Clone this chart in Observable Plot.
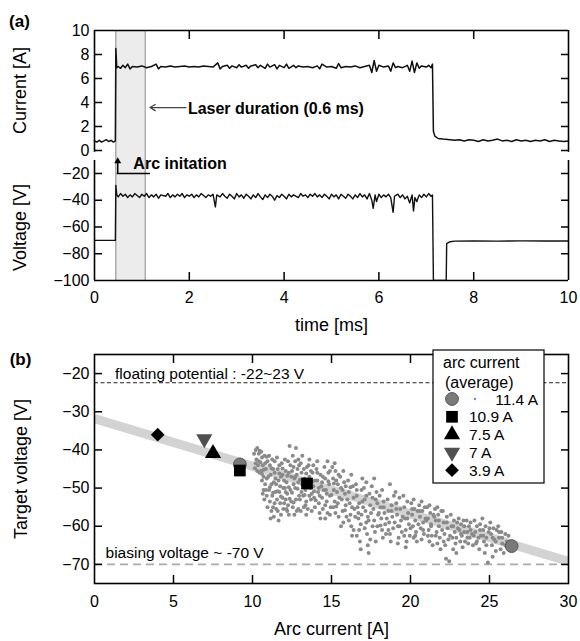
<!DOCTYPE html>
<html><head><meta charset="utf-8">
<script src="https://cdn.jsdelivr.net/npm/d3@7"></script>
<script src="https://cdn.jsdelivr.net/npm/@observablehq/plot@0.6"></script>
<style>
body{margin:0;background:#fff;}
#chart{position:relative;width:580px;height:641px;background:#fff;overflow:hidden;}
#chart svg{position:absolute;left:0;}
</style></head><body><div id="chart"></div>
<script>
// ---------------- DATA ----------------
// (a) time traces [time ms, value]
const currentTrace = [[0,0.8],[0.05,0.7],[0.1,0.85],[0.15,0.7],[0.2,0.8],[0.25,0.9],[0.3,0.75],[0.35,0.85],[0.4,0.7],[0.44,0.8],
[0.45,8.5],[0.47,6.9],[0.5,7.0],[0.55,6.85],[0.6,7.1],[0.65,6.9],[0.7,7.2],[0.75,6.8],[0.8,7.0],[0.9,6.95],[1.0,7.05],[1.1,6.9],[1.2,7.0],[1.3,7.2],[1.35,6.8],[1.4,7.0],[1.5,6.95],[1.6,7.05],[1.7,6.95],[1.8,7.0],[1.9,7.05],[2.0,6.95],[2.1,7.0],[2.2,6.95],[2.3,7.05],[2.4,7.0],[2.5,6.95],[2.6,7.3],[2.65,6.8],[2.7,7.0],[2.8,7.1],[2.85,6.85],[2.9,7.05],[3.0,6.9],[3.05,7.15],[3.1,6.95],[3.2,7.1],[3.25,6.85],[3.3,7.05],[3.4,7.15],[3.45,6.9],[3.5,7.1],[3.6,6.85],[3.65,7.2],[3.7,6.95],[3.8,7.15],[3.85,6.8],[3.9,7.1],[4.0,6.9],[4.05,7.2],[4.1,6.85],[4.2,7.1],[4.25,6.9],[4.3,7.05],[4.4,6.95],[4.5,7.0],[4.6,6.9],[4.7,7.05],[4.75,6.8],[4.8,7.2],[4.9,6.95],[5.0,7.0],[5.1,6.85],[5.15,7.25],[5.2,6.9],[5.3,7.0],[5.4,6.95],[5.5,7.05],[5.6,6.9],[5.7,7.0],[5.8,7.1],[5.85,6.5],[5.9,7.5],[5.95,6.6],[6.0,7.1],[6.1,6.95],[6.2,7.05],[6.25,6.6],[6.3,7.3],[6.35,6.9],[6.4,7.0],[6.5,6.9],[6.6,7.1],[6.65,6.6],[6.7,7.45],[6.75,6.5],[6.8,7.3],[6.85,6.85],[6.9,7.05],[7.0,6.95],[7.05,7.1],[7.1,6.9],[7.13,7.2],
[7.15,1.6],[7.18,1.2],[7.25,1.0],[7.35,0.95],[7.5,0.9],[7.6,0.85],[7.7,0.9],[7.8,0.8],[7.9,0.9],[8.0,0.85],[8.1,0.75],[8.2,0.9],[8.3,0.8],[8.4,0.85],[8.5,0.95],[8.6,0.8],[8.7,0.85],[8.8,0.75],[8.9,0.9],[9.0,0.8],[9.1,0.85],[9.2,0.75],[9.3,0.85],[9.4,0.8],[9.5,0.9],[9.6,0.75],[9.7,0.85],[9.8,0.8],[9.9,0.75],[10.0,0.8]];

const voltageTrace = [[0,-70],[0.44,-70],[0.45,-29],[0.47,-36],[0.5,-37.5],[0.55,-35],[0.6,-37],[0.65,-35.5],[0.7,-38],[0.75,-36],[0.8,-37.5],[0.85,-35],[0.9,-36.5],[0.95,-38],[1.0,-35.5],[1.05,-37],[1.1,-35],[1.15,-38],[1.2,-36],[1.25,-37.5],[1.3,-35.5],[1.35,-38.5],[1.4,-36],[1.5,-37],[1.55,-35],[1.6,-38],[1.65,-36],[1.7,-37.5],[1.75,-35.5],[1.8,-37],[1.85,-35],[1.9,-38],[1.95,-36],[2.0,-37],[2.05,-35.5],[2.1,-38],[2.15,-36],[2.2,-37.5],[2.25,-35],[2.3,-36.5],[2.35,-38],[2.4,-36],[2.45,-37],[2.5,-35.5],[2.55,-45],[2.58,-36],[2.65,-37.5],[2.7,-35],[2.75,-37],[2.8,-38.5],[2.85,-35.5],[2.9,-37],[2.95,-39],[3.0,-35],[3.05,-37.5],[3.1,-36],[3.15,-38.5],[3.2,-35.5],[3.25,-37],[3.3,-39],[3.35,-36],[3.4,-38],[3.45,-35],[3.5,-37.5],[3.55,-39.5],[3.6,-36],[3.65,-38],[3.7,-35.5],[3.75,-37],[3.8,-40],[3.85,-36.5],[3.9,-38],[3.95,-35.5],[4.0,-37],[4.05,-39],[4.1,-35.5],[4.15,-37.5],[4.2,-36],[4.3,-38],[4.35,-35],[4.4,-37],[4.45,-36],[4.5,-38],[4.55,-35.5],[4.6,-37],[4.65,-35],[4.7,-37.5],[4.75,-36],[4.8,-38],[4.85,-35.5],[4.9,-37],[4.95,-39],[5.0,-35.5],[5.05,-37.5],[5.1,-36],[5.15,-39],[5.2,-35.5],[5.25,-37],[5.3,-38.5],[5.35,-35.5],[5.4,-37],[5.45,-39],[5.5,-36],[5.55,-38],[5.6,-35],[5.65,-37.5],[5.7,-36],[5.75,-39],[5.8,-35],[5.85,-40],[5.88,-46],[5.92,-36],[5.95,-41],[6.0,-35.5],[6.05,-38],[6.1,-36],[6.15,-37.5],[6.2,-35.5],[6.25,-38],[6.3,-49],[6.33,-37],[6.4,-35.5],[6.45,-38],[6.5,-36],[6.55,-39],[6.6,-37],[6.65,-42],[6.7,-36],[6.73,-48],[6.76,-38],[6.8,-41],[6.85,-36],[6.9,-38],[6.95,-35.5],[7.0,-37.5],[7.05,-35],[7.1,-37],[7.13,-36],[7.15,-100],[7.42,-100],[7.43,-72.5],[7.5,-71],[7.6,-70.6],[8.0,-70.5],[8.5,-70.6],[9.0,-70.4],[9.5,-70.5],[10,-70.5]];

const laserStart = 0.45, laserEnd = 1.07;       // ms (0.6 ms laser)
const currentTicks = [0, 2, 4, 6, 8, 10];
const voltageTicks = [-100, -80, -60, -40, -20];
const timeTicks = [0, 2, 4, 6, 8, 10];

// (b) scatter of 11.4 A discharge [arc current A, target voltage V]
const cloud114 = [
[10.1,-41],[10.2,-40],[10.25,-42.5],[10.3,-39.5],[10.35,-44],[10.4,-41],[10.45,-46],[10.2,-43.5],[10.4,-43],[10.3,-45.5],[10.15,-44.8],[10.45,-40.2],
[10.55,-40.5],[10.6,-42],[10.65,-44],[10.7,-47],[10.75,-41.5],[10.8,-49],[10.85,-45],[10.9,-52],[10.95,-43],[10.6,-48],[10.7,-50.5],[10.8,-43.5],[10.9,-47.5],[10.55,-45.5],[10.75,-53],[10.95,-55],[10.65,-51.5],
[11.05,-41.5],[11.1,-44],[11.15,-46.5],[11.2,-49],[11.25,-52],[11.3,-55],[11.35,-57.5],[11.4,-43],[11.45,-47.5],[11.05,-50.5],[11.1,-53.5],[11.2,-56],[11.3,-45],[11.35,-48.5],[11.45,-51],[11.25,-42.5],[11.15,-58],[11.4,-54],
[11.55,-42],[11.6,-45],[11.65,-48],[11.7,-51],[11.75,-54],[11.8,-57],[11.85,-43.5],[11.9,-46.5],[11.95,-50],[11.55,-53],[11.6,-56],[11.7,-44],[11.8,-47],[11.9,-52.5],[11.95,-55.5],[11.65,-58.5],[11.75,-49.5],
[12.05,-42.5],[12.1,-45.5],[12.15,-48.5],[12.2,-51.5],[12.25,-54.5],[12.3,-57],[12.35,-39],[12.4,-44],[12.45,-47],[12.05,-50],[12.1,-53],[12.2,-56],[12.3,-46],[12.4,-50.5],[12.45,-53.5],[12.25,-43],[12.15,-55.5],
[12.55,-41.5],[12.6,-44.5],[12.65,-47.5],[12.7,-50],[12.75,-53],[12.8,-56],[12.85,-45],[12.9,-48.5],[12.95,-52],[12.55,-55],[12.6,-49],[12.7,-43],[12.8,-46.5],[12.9,-55.5],[12.95,-44],[12.75,-39.5],[12.65,-57],
[13.05,-43.5],[13.1,-46],[13.15,-49],[13.2,-52],[13.25,-55],[13.3,-47.5],[13.35,-50.5],[13.4,-53.5],[13.45,-44.5],[13.05,-56],[13.15,-41.5],[13.25,-45],[13.35,-54.5],[13.4,-57],[13.1,-51],
[13.55,-44],[13.6,-47],[13.65,-50],[13.7,-53],[13.75,-56],[13.8,-46],[13.85,-49.5],[13.9,-52.5],[13.95,-55],[13.6,-42.5],[13.7,-45.5],[13.85,-44],[13.95,-48],[13.75,-51.5],
[14.05,-45],[14.1,-48],[14.15,-51],[14.2,-54],[14.25,-56.5],[14.3,-46.5],[14.35,-49.5],[14.4,-52.5],[14.45,-55.5],[14.1,-43],[14.3,-58],[14.45,-47],[14.2,-50],
[14.55,-44.5],[14.6,-47.5],[14.65,-50.5],[14.7,-53.5],[14.75,-56.5],[14.8,-46],[14.85,-49],[14.9,-52],[14.95,-55],[14.6,-58],[14.75,-43],[14.9,-45.5],[14.7,-51.5],
[15.05,-44.5],[15.1,-47.5],[15.15,-50.5],[15.2,-53.5],[15.25,-56.5],[15.3,-48],[15.35,-51],[15.4,-54],[15.45,-57.5],[15.1,-55],[15.25,-45.5],[15.4,-49],[15.2,-43.5],
[15.55,-47],[15.6,-50],[15.65,-53],[15.7,-56],[15.75,-59],[15.8,-48.5],[15.85,-51.5],[15.9,-54.5],[15.95,-57.5],[15.6,-60],[15.75,-45.5],[15.9,-49.5],
[16.05,-48],[16.1,-51],[16.15,-54],[16.2,-57],[16.25,-60],[16.3,-62.5],[16.35,-49.5],[16.4,-52.5],[16.45,-55.5],[16.1,-58.5],[16.25,-46.5],[16.4,-61],
[16.55,-49],[16.6,-52],[16.65,-55],[16.7,-58],[16.75,-61],[16.8,-64],[16.85,-66],[16.9,-50.5],[16.95,-53.5],[16.6,-62.5],[16.7,-56.5],[16.85,-59.5],[16.95,-47.5],
[17.05,-50],[17.1,-53],[17.15,-56],[17.2,-59],[17.25,-62],[17.3,-65],[17.35,-67],[17.4,-51.5],[17.45,-54.5],[17.1,-60.5],[17.3,-57.5],[17.45,-63.5],[17.2,-48.5],
[17.55,-49.5],[17.6,-52.5],[17.65,-55.5],[17.7,-58.5],[17.75,-61.5],[17.8,-64],[17.85,-51],[17.9,-54],[17.95,-57],[17.7,-47.5],[17.9,-60],
[18.05,-52],[18.1,-55],[18.15,-58],[18.2,-61],[18.25,-63],[18.3,-53.5],[18.35,-56.5],[18.4,-59.5],[18.45,-62],[18.2,-50.5],
[18.55,-53],[18.6,-56],[18.65,-59],[18.7,-62],[18.75,-64],[18.8,-54.5],[18.85,-57.5],[18.9,-60.5],[18.95,-52],[18.7,-49],
[19.05,-51],[19.1,-54],[19.15,-57],[19.2,-60],[19.25,-63],[19.3,-52.5],[19.35,-55.5],[19.4,-58.5],[19.45,-61.5],[19.2,-64.5],
[19.55,-52],[19.6,-55],[19.65,-58],[19.7,-61],[19.75,-64],[19.8,-53.5],[19.85,-56.5],[19.9,-59.5],[19.95,-62.5],[19.7,-65.5],
[20.05,-54],[20.1,-57],[20.15,-60],[20.2,-63],[20.25,-55.5],[20.3,-58.5],[20.35,-61.5],[20.4,-64],[20.45,-56],[20.2,-53],
[20.55,-54.5],[20.6,-57.5],[20.65,-60.5],[20.7,-63.5],[20.75,-56],[20.8,-59],[20.85,-62],[20.9,-55],[20.95,-58],[20.7,-53.5],
[21.05,-55],[21.1,-58],[21.15,-61],[21.2,-64],[21.25,-56.5],[21.3,-59.5],[21.35,-62.5],[21.4,-65],[21.45,-57],[21.2,-54.5],
[21.55,-55.5],[21.6,-58.5],[21.65,-61.5],[21.7,-64.5],[21.75,-57],[21.8,-60],[21.85,-63],[21.9,-66],[21.95,-56],[21.7,-55],
[22.05,-56],[22.1,-59],[22.15,-62],[22.2,-65],[22.25,-68.5],[22.3,-57.5],[22.35,-60.5],[22.4,-63.5],[22.45,-69.2],
[22.55,-57],[22.6,-60],[22.65,-63],[22.7,-66],[22.75,-58.5],[22.8,-61.5],[22.85,-64.5],[22.9,-67],[22.95,-59],
[23.05,-58],[23.1,-61],[23.15,-64],[23.2,-59.5],[23.25,-62.5],[23.3,-65.5],[23.35,-58.5],[23.4,-61.5],[23.45,-64],
[23.55,-58.5],[23.6,-61.5],[23.65,-64.5],[23.7,-60],[23.75,-63],[23.8,-59],[23.9,-62],[23.95,-65],
[24.05,-58.5],[24.1,-61.5],[24.15,-64.5],[24.2,-60],[24.3,-63],[24.35,-66],[24.4,-59.5],[24.45,-62.5],
[24.55,-58],[24.6,-61],[24.65,-64],[24.7,-67],[24.75,-60],[24.8,-63],[24.9,-69.5],[24.95,-61.5],
[25.05,-59],[25.1,-62],[25.15,-65],[25.2,-68],[25.25,-60.5],[25.3,-63.5],[25.4,-66.5],[25.45,-61],
[25.55,-60],[25.6,-63],[25.7,-66],[25.75,-61.5],[25.8,-64.5],[25.9,-67],[26.0,-62],[26.1,-64]];
const cloud114b = [
[10.5,-43.2],[10.6,-46.3],[10.7,-45.2],[10.85,-50.5],[10.9,-41.8],[11.0,-47.0],[11.1,-49.8],[11.2,-44.8],[11.3,-51.2],[11.4,-46.0],[11.5,-49.0],[11.5,-55.5],[11.6,-50.8],[11.7,-46.2],[11.8,-52.2],[11.9,-44.9],[12.0,-48.0],[12.0,-54.0],[12.1,-51.0],[12.2,-46.8],[12.3,-49.8],[12.35,-52.8],[12.5,-45.5],[12.5,-51.2],[12.6,-53.8],[12.7,-47.0],[12.85,-50.2],[12.9,-42.5],[13.0,-47.8],[13.0,-53.0],[13.2,-48.0],[13.3,-51.8],[13.4,-46.2],[13.5,-49.5],[13.5,-55.5],[13.6,-52.0],[13.8,-48.2],[13.9,-50.8],[14.0,-53.2],[14.1,-46.0],[14.25,-52.0],[14.4,-48.5],[14.5,-50.5],[14.6,-54.5],[14.8,-48.2],[14.9,-57.0],[15.0,-51.8],[15.15,-48.8],[15.3,-54.8],[15.45,-46.5],[15.5,-52.5],[15.7,-50.5],[15.85,-55.8],[16.0,-53.0],[16.2,-49.8],[16.3,-55.0],[16.5,-57.5],[16.6,-50.5],[16.75,-54.0],[16.9,-57.0],[17.0,-55.0],[17.2,-52.0],[17.35,-58.5],[17.5,-56.5],[17.6,-60.0],[17.8,-53.0],[18.0,-56.5],[18.1,-59.8],[18.3,-55.0],[18.5,-58.0],[18.6,-61.0],[18.8,-56.0],[19.0,-59.0],[19.1,-55.5],[19.3,-60.0],[19.5,-57.5],[19.6,-62.5],[19.8,-58.0],[20.0,-60.5],[20.1,-55.5],[20.3,-62.5],[20.5,-59.5],[20.6,-56.0],[20.8,-61.0],[21.0,-58.5],[21.1,-62.5],[21.3,-60.0],[21.5,-57.5],[21.6,-62.5],[21.8,-58.5],[22.0,-61.0],[22.1,-64.0],[22.3,-59.0],[22.5,-62.5],[22.7,-60.0],[22.9,-63.0],[23.0,-60.5],[23.2,-62.0],[23.4,-60.0],[23.6,-63.0],[23.8,-61.0],[24.0,-62.5],[24.2,-64.0],[24.4,-61.0],[24.6,-62.5],[24.8,-65.0],[25.0,-60.5],[25.2,-63.0],[25.4,-64.0],[25.6,-61.5],[25.8,-63.0],[26.0,-65.0],[26.2,-62.5]];

// average markers per arc current
const seriesLabels = ["11.4 A", "10.9 A", "7.5 A", "7 A", "3.9 A"];
const circle114 = [[9.2,-43.8],[26.4,-65.2]];
const square109 = [[9.2,-45.4],[13.45,-48.8]];
const tri75 = [[7.5,-40.9]];
const tri7 = [[6.95,-37.1]];
const diamond39 = [[4.0,-36.0]];
const fitX = [0, 30], fitY = [-31.8, -69.2];
const floatingV = -22.4, biasV = -70;
const bTicksX = [0, 5, 10, 15, 20, 25, 30];
const bTicksY = [-70, -60, -50, -40, -30, -20];

// ---------------- DRAW ----------------
const font = "'Liberation Sans', Arial, Helvetica, sans-serif";
const fmt = d => d < 0 ? "\u2212" + Math.abs(d) : String(d);
const base = {width: 580, marginLeft: 94, marginRight: 12,
  style: {fontFamily: font, fontSize: "16px", color: "#000", background: "none", overflow: "visible"}};
const fw = 1.6;
const X = d => d[0], Y = d => d[1];
const T = d => d;
const inner = (ticksX, ticksY, topX, bottomX) => [
  Plot.axisY({anchor: "left", ticks: ticksY, tickSize: 8, dx: 8, fill: "none", label: null, strokeWidth: 1.5}),
  Plot.axisY({anchor: "right", ticks: ticksY, tickSize: 8, dx: -8, fill: "none", label: null, strokeWidth: 1.5}),
  topX ? Plot.axisX({anchor: "top", ticks: topX, tickSize: 8, dy: 8, fill: "none", label: null, strokeWidth: 1.5}) : null,
  bottomX ? Plot.axisX({anchor: "bottom", ticks: bottomX, tickSize: 8, dy: -8, fill: "none", label: null, strokeWidth: 1.5}) : null
];
const centered = {textAnchor: "middle", lineAnchor: "middle"};
const rSq = 6.6, rTri = 6.0, rDia = 6.2, rCir = 6.4;

const chart = document.getElementById("chart");

const pCur = Plot.plot({...base, height: 156, marginTop: 30, marginBottom: 0,
  x: {domain: [0, 10]}, y: {domain: [-0.5, 10]},
  marks: [
    Plot.rect([0], {x1: laserStart, x2: laserEnd, y1: -0.5, y2: 10, fill: "#ececec"}),
    Plot.ruleX([laserStart, laserEnd], {stroke: "#9a9a9a", strokeWidth: 1.2}),
    Plot.line(currentTrace, {x: X, y: Y, stroke: "#111", strokeWidth: 1.5}),
    Plot.ruleY([10], {strokeWidth: fw}),
    Plot.ruleX([0, 10], {y1: -0.15, y2: 10, strokeWidth: fw}),
    ...inner(null, currentTicks.slice(0, 5), timeTicks.slice(1, 5), null),
    Plot.axisY({anchor: "left", ticks: currentTicks, tickSize: 0, tickPadding: 5, label: null, tickFormat: fmt}),
    Plot.arrow([0], {x1: 1.93, y1: 3.58, x2: 1.17, y2: 3.58, stroke: "#444", strokeWidth: 1.3, headLength: 7}),
    Plot.text(["Laser duration (0.6 ms)"], {text: T, x: 1.97, y: 3.5, textAnchor: "start", fontWeight: "bold", fontSize: 16}),
    Plot.text(["Current [A]"], {text: T, frameAnchor: "left", dx: -74, dy: -3, rotate: -90, fontSize: 18, ...centered}),
    Plot.text(["(a)"], {text: T, frameAnchor: "top-left", dx: -75, dy: -9, fontWeight: "bold", fontSize: 17, ...centered})
  ]});
pCur.style.top = "0px";
chart.appendChild(pCur);

const pVol = Plot.plot({...base, height: 180, marginTop: 0, marginBottom: 56,
  x: {domain: [0, 10]}, y: {domain: [-100, -7.3]},
  marks: [
    Plot.rect([0], {x1: laserStart, x2: laserEnd, y1: -100, y2: -7.3, fill: "#ececec"}),
    Plot.ruleX([laserStart, laserEnd], {stroke: "#9a9a9a", strokeWidth: 1.2}),
    Plot.line(voltageTrace, {x: X, y: Y, stroke: "#111", strokeWidth: 1.4, clip: true}),
    Plot.ruleY([-100], {strokeWidth: fw}),
    Plot.ruleX([0, 10], {y1: -100, y2: -10.3, strokeWidth: fw}),
    ...inner(null, voltageTicks.slice(1), null, timeTicks.slice(1, 5)),
    Plot.axisY({anchor: "left", ticks: voltageTicks, tickSize: 0, tickPadding: 5, label: null, tickFormat: fmt}),
    Plot.axisX({anchor: "bottom", ticks: timeTicks, tickSize: 0, tickPadding: 11, label: null, tickFormat: fmt}),
    Plot.ruleX([0.49], {y1: -20, y2: -12, strokeWidth: 1.5}),
    Plot.dot([0], {x: 0.49, y: -10.8, symbol: "triangle", r: 2.6, fill: "#000"}),
    Plot.ruleY([-20], {x1: 0.48, x2: 1.18, strokeWidth: 1.3}),
    Plot.text(["Arc initation"], {text: T, x: 0.82, y: -12.5, textAnchor: "start", fontWeight: "bold", fontSize: 16}),
    Plot.text(["Voltage [V]"], {text: T, frameAnchor: "left", dx: -74, dy: 9, rotate: -90, fontSize: 18, ...centered}),
    Plot.text(["time [ms]"], {text: T, frameAnchor: "bottom", dy: 45, fontSize: 18, ...centered})
  ]});
pVol.style.top = "156px";
chart.appendChild(pVol);

const pB = Plot.plot({...base, height: 301, marginTop: 14, marginBottom: 58,
  x: {domain: [0, 30]}, y: {domain: [-75, -15]},
  marks: [
    Plot.ruleY([floatingV], {stroke: "#222", strokeWidth: 1, strokeDasharray: "4,2.5"}),
    Plot.ruleY([biasV], {stroke: "#aaa", strokeWidth: 1.6, strokeDasharray: "8,5"}),
    Plot.line(fitX.map((x, i) => [x, fitY[i]]), {x: X, y: Y, stroke: "#d3d3d3", strokeWidth: 9, strokeLinecap: "butt", clip: true}),
    Plot.dot(cloud114, {x: X, y: Y, r: 2, fill: "#8a8a8a"}),
    Plot.dot(cloud114b, {x: X, y: Y, r: 2, fill: "#8a8a8a"}),
    Plot.dot(circle114, {x: X, y: Y, r: rCir, fill: "#7a7a7a", stroke: "#555", strokeWidth: 1}),
    Plot.dot(square109, {x: X, y: Y, symbol: "square", r: rSq, fill: "#000"}),
    Plot.dot(tri75, {x: X, y: Y, symbol: "triangle", r: rTri, fill: "#000"}),
    Plot.dot(tri7, {x: X, y: Y, symbol: "triangle", r: rTri, rotate: 180, fill: "#505050"}),
    Plot.dot(diamond39, {x: X, y: Y, symbol: "diamond2", r: rDia, fill: "#000"}),
    Plot.frame({strokeWidth: fw}),
    ...inner(null, bTicksY, bTicksX.slice(1, 6), bTicksX.slice(1, 6)),
    Plot.axisY({anchor: "left", ticks: bTicksY, tickSize: 0, tickPadding: 5, label: null, tickFormat: fmt}),
    Plot.axisX({anchor: "bottom", ticks: bTicksX, tickSize: 0, tickPadding: 12, label: null, tickFormat: fmt}),
    Plot.text(["floating potential : -22~23 V"], {text: T, x: 1.3, y: -20, textAnchor: "start", fontSize: 15.5}),
    Plot.text(["biasing voltage ~ -70 V"], {text: T, x: 0.7, y: -66.9, textAnchor: "start", fontSize: 15.5}),
    Plot.text(["Target voltage [V]"], {text: T, frameAnchor: "left", dx: -73, rotate: -90, fontSize: 18, ...centered}),
    Plot.text(["Arc current [A]"], {text: T, frameAnchor: "bottom", dy: 46, fontSize: 18, ...centered}),
    Plot.text(["(b)"], {text: T, frameAnchor: "top-left", dx: -74, dy: 5, fontWeight: "bold", fontSize: 17, ...centered})
  ]});
pB.style.top = "340px";
chart.appendChild(pB);

// legend
const leg = d3.select(chart).append("svg").attr("width", 113).attr("height", 135)
  .style("left", "432px").style("top", "349px").style("font-family", font);
leg.append("rect").attr("x", 1).attr("y", 1).attr("width", 111).attr("height", 133)
  .attr("fill", "#fff").attr("stroke", "#000").attr("stroke-width", 1.2);
leg.append("text").attr("x", 11).attr("y", 19).attr("font-size", 16).text("arc current");
leg.append("text").attr("x", 13).attr("y", 39).attr("font-size", 16).text("(average)");
const legItems = [
  {sym: d3.symbolCircle, r: rCir, fill: "#7a7a7a", stroke: "#555", rot: 0},
  {sym: d3.symbolSquare, r: rSq, fill: "#000", rot: 0},
  {sym: d3.symbolTriangle, r: rTri, fill: "#000", rot: 0},
  {sym: d3.symbolTriangle, r: rTri, fill: "#505050", rot: 180},
  {sym: d3.symbolDiamond2, r: rDia, fill: "#000", rot: 0}
];
legItems.forEach((it, i) => {
  const cy = 50 + i * 17.8;
  leg.append("path").attr("d", d3.symbol(it.sym, Math.PI * it.r * it.r)())
    .attr("transform", `translate(20,${cy}) rotate(${it.rot})`)
    .attr("fill", it.fill).attr("stroke", it.stroke || "none");
  if (i === 0) {
    leg.append("circle").attr("cx", 43).attr("cy", cy).attr("r", 1.2).attr("fill", "#888");
    leg.append("text").attr("x", 106).attr("y", cy + 5.5).attr("text-anchor", "end").attr("font-size", 15.5).text(seriesLabels[i]);
  } else {
    leg.append("text").attr("x", 37).attr("y", cy + 5.5).attr("font-size", 15.5).text(seriesLabels[i]);
  }
});
</script>
</body></html>
